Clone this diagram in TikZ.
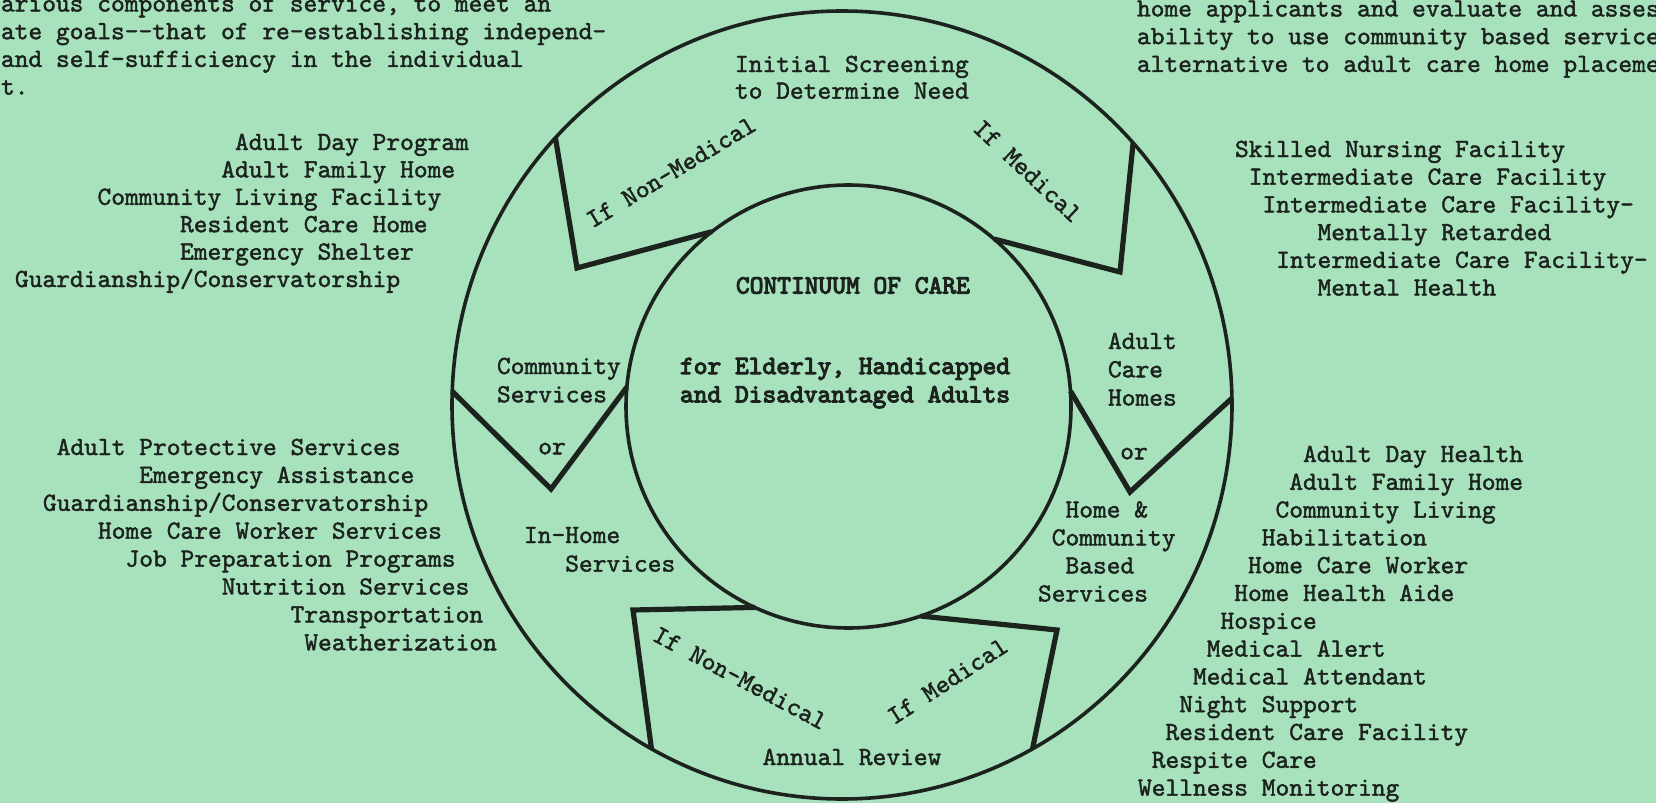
\documentclass[tikz,border=0pt]{standalone}
\usetikzlibrary{shapes.geometric}
\definecolor{paper}{RGB}{168,226,189}
\definecolor{ink}{RGB}{28,34,30}
\font\tw="[lmmono10-regular.otf]:embolden=1.6" at 13.1pt
\font\twb="[lmmono10-regular.otf]:embolden=4" at 13.1pt
\newcommand\twf[1]{\tw\setlength{\baselineskip}{#1}}
\newcommand\twbf[1]{\twb\setlength{\baselineskip}{#1}}
\newlength\cw
\setlength\cw{6.8775pt}
\newcommand\ind[1]{\hspace*{#1\cw}}
\begin{document}
\begin{tikzpicture}[x=0.5pt,y=-0.5pt,
  txt/.style={font={\twf{13.9pt}}, text=ink, inner sep=0pt, outer sep=0pt},
  lst/.style={txt, font={\twf{#1}}, align=left, anchor=base west},
  lst/.default=13.9pt,
  bld/.style={txt, font={\twbf{#1}}, align=left, anchor=base west},
  bld/.default=13.9pt,
  ring/.style={ellipse, draw=ink, line width=1.8pt, inner sep=0pt, outer sep=0pt},
  notch/.style={draw=ink, line width=2.6pt, line join=miter}]
\fill[paper] (0,0) rectangle (1656,803);
\useasboundingbox (0,0) rectangle (1656,803);
\clip (0,0) rectangle (1656,803);

% circles
\node[ring, minimum width=390pt, minimum height=394pt] (outer) at (842,405) {};
\node[ring, minimum width=222.5pt, minimum height=221.5pt] (inner) at (848.5,406.5) {};

% notch points
\coordinate (n1) at (577,268);
\coordinate (n2) at (1120,272);
\coordinate (vl) at (551,489);
\coordinate (vr) at (1130,492);
\coordinate (bl) at (633,610);
\coordinate (br) at (1057,630);

\draw[notch] (outer.137.6) -- (n1) -- (inner.128.8);
\draw[notch] (outer.42.4) -- (n2) -- (inner.49.4);
\draw[notch] (outer.178.2) -- (vl) -- (inner.175.8);
\draw[notch] (outer.1.8) -- (vr) -- (inner.4.7);
\draw[notch] (inner.245.4) -- (bl) -- (outer.241);
\draw[notch] (inner.289.3) -- (br) -- (outer.299.8);

% paragraphs at top (anchor = baseline of the last line)
\node[lst=13.85pt] (paraL) at (1,94.6) {arious components of service, to meet an\\ate goals-{}-that of re-establishing independ-\\and self-sufficiency in the individual\\t.};
\node[lst=13.85pt] (paraR) at (1137,71.9) {home applicants and evaluate and assess\\ability to use community based services\\alternative to adult care home placement};

% lists
\node[lst=13.7pt] (listA) at (15,287) {\ind{16}Adult Day Program\\\ind{15}Adult Family Home\\\ind{6}Community Living Facility\\\ind{12}Resident Care Home\\\ind{12}Emergency Shelter\\Guardianship/Conservatorship};
\node[lst=13.85pt] (listB) at (1235,295.5) {Skilled Nursing Facility\\\ind{1}Intermediate Care Facility\\\ind{2}Intermediate Care Facility-\\\ind{6}Mentally Retarded\\\ind{3}Intermediate Care Facility-\\\ind{6}Mental Health};
\node[lst=13.95pt] (listC) at (43,650.3) {\ind{1}Adult Protective Services\\\ind{7}Emergency Assistance\\Guardianship/Conservatorship\\\ind{4}Home Care Worker Services\\\ind{6}Job Preparation Programs\\\ind{13}Nutrition Services\\\ind{18}Transportation\\\ind{19}Weatherization};
\node[lst=13.9pt] (listD) at (1138,795.6) {\ind{12}Adult Day Health\\\ind{11}Adult Family Home\\\ind{10}Community Living\\\ind{9}Habilitation\\\ind{8}Home Care Worker\\\ind{7}Home Health Aide\\\ind{6}Hospice\\\ind{5}Medical Alert\\\ind{4}Medical Attendant\\\ind{3}Night Support\\\ind{2}Resident Care Facility\\\ind{1}Respite Care\\Wellness Monitoring};

% ring labels
\node[lst=13.35pt] (init) at (735,98.7) {Initial Screening\\to Determine Need};
\node[bld] (coc) at (736,293.5) {CONTINUUM OF CARE};
\node[bld=14.15pt] (forwhom) at (680,402.3) {for Elderly, Handicapped\\and Disadvantaged Adults};
\node[lst=14.15pt] (comm) at (497,402.3) {Community\\Services};
\node[lst=14.15pt] (ach) at (1108,405.6) {Adult\\Care\\Homes};
\node[txt, anchor=mid] (orl) at (552,450) {or};
\node[txt, anchor=mid] (orr) at (1134,455) {or};
\node[lst=14.3pt] (inh) at (524,571.6) {In-Home\\\ind{3}Services};
\node[lst=14pt] (hcbs) at (1038,601.5) {\ind{2}Home \&\\\ind{1}Community\\\ind{2}Based\\Services};
\node[txt, anchor=base] (annual) at (852,765) {Annual Review};

% rotated labels
\node[txt, rotate=31] (ifn1) at (671,172) {If Non-Medical};
\node[txt, rotate=-43] (ifm1) at (1027.5,171) {If Medical};
\node[txt, rotate=-28] (ifn2) at (740,678) {If Non-Medical};
\node[txt, rotate=33] (ifm2) at (947.5,681) {If Medical};
\end{tikzpicture}
\end{document}
